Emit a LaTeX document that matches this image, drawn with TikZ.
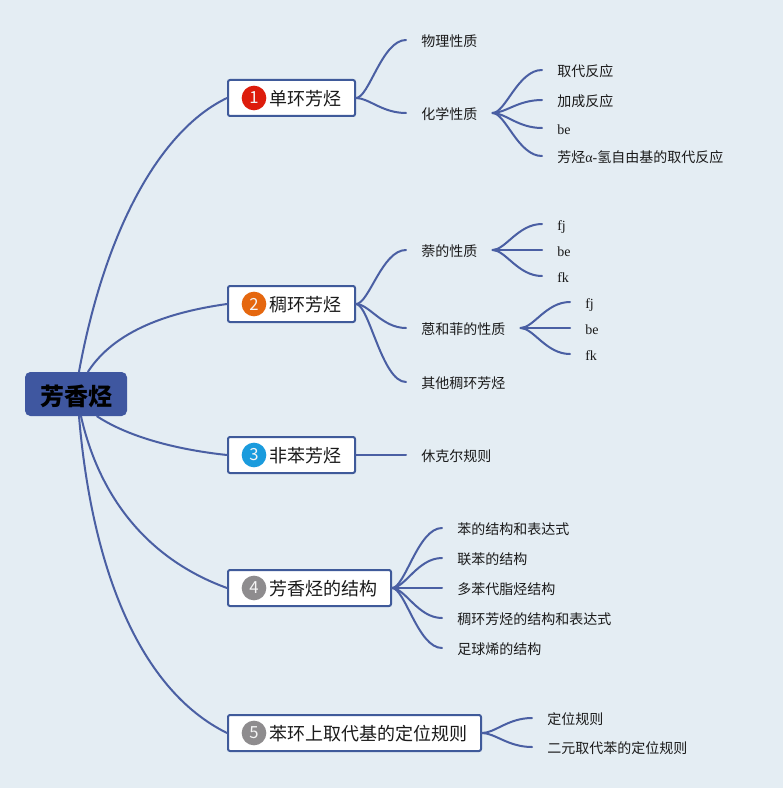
\documentclass[tikz,border=0pt]{standalone}
\usepackage{fontspec}
\setmainfont{Liberation Serif}
\newfontfamily\cjk{Noto Sans CJK SC}
\definecolor{bgc}{HTML}{E4EDF3}
\definecolor{linec}{HTML}{4A5FA3}
\definecolor{rootc}{HTML}{3F57A0}
\definecolor{boxc}{HTML}{3F5A9A}
\definecolor{txt}{HTML}{1A1A1A}
\definecolor{bred}{HTML}{DD1C0C}
\definecolor{borange}{HTML}{E5670F}
\definecolor{bblue}{HTML}{1A9BDD}
\definecolor{bgrey}{HTML}{8E8C8E}
\tikzset{
  link/.style={draw=linec,line width=1.5pt,line cap=round},
  rootbox/.style={fill=rootc,draw=none,rounded corners=4pt,minimum width=76.5pt,minimum height=33pt,inner sep=0pt,font=\cjk\fontsize{18}{20}\selectfont\bfseries,text=black,text height=17.5pt,text depth=.2pt},
  mainbox/.style={fill=white,draw=boxc,line width=1.5pt,rounded corners=1.5pt,anchor=west,minimum height=27pt,inner ysep=0pt,inner xsep=10.5pt,font=\cjk\fontsize{13.5}{16}\selectfont,text=txt,text height=12pt,text depth=.5pt},
  badge/.style={circle,minimum size=18.5pt,inner sep=0pt,text=white!92!gray,font=\cjk\fontsize{12.5}{14}\selectfont},
  leaf/.style={anchor=west,inner xsep=11.25pt,inner ysep=0pt,font=\cjk\fontsize{10.5}{13}\selectfont,text=txt,text height=10.5pt,text depth=.6pt},
  latin/.style={font=\fontsize{10.5}{13}\selectfont}
}
\newcommand{\branch}[2]{\draw[link] (#1.east) .. controls +(13,0) and +(-24,0) .. (#2.west);}
\begin{document}
\begin{tikzpicture}[x=.75pt,y=-.75pt]
\fill[bgc] (0,0) rectangle (783,788);
\useasboundingbox (0,0) rectangle (783,788);
% root
\node[rootbox] (root) at (76,394) {芳香烃};
% main
\node[mainbox] (b1) at (227,98) {\hspace{20.25pt}单环芳烃};
\node[mainbox] (b2) at (227,304) {\hspace{20.25pt}稠环芳烃};
\node[mainbox] (b3) at (227,455) {\hspace{20.25pt}非苯芳烃};
\node[mainbox] (b4) at (227,588) {\hspace{20.25pt}芳香烃的结构};
\node[mainbox] (b5) at (227,733) {\hspace{20.25pt}苯环上取代基的定位规则};
\node[badge,fill=bred] (n1) at (254,98) {1};
\node[badge,fill=borange] (n2) at (254,304) {2};
\node[badge,fill=bblue] (n3) at (254,455) {3};
\node[badge,fill=bgrey] (n4) at (254,588) {4};
\node[badge,fill=bgrey] (n5) at (254,733) {5};
% leaves
\node[leaf] (a1) at (406,40) {物理性质};
\node[leaf] (a2) at (406,113) {化学性质};
\node[leaf] (a21) at (542,70) {取代反应};
\node[leaf] (a22) at (542,100) {加成反应};
\node[leaf,latin] (a23) at (542,128) {be};
\node[leaf] (a24) at (542,156) {芳烃{\rmfamily α-}氢自由基的取代反应};
\node[leaf] (c1) at (406,250) {萘的性质};
\node[leaf,latin] (c11) at (542,224) {fj};
\node[leaf,latin] (c12) at (542,250) {be};
\node[leaf,latin] (c13) at (542,276) {fk};
\node[leaf] (c2) at (406,328) {蒽和菲的性质};
\node[leaf,latin] (c21) at (570,302) {fj};
\node[leaf,latin] (c22) at (570,328) {be};
\node[leaf,latin] (c23) at (570,354) {fk};
\node[leaf] (c3) at (406,382) {其他稠环芳烃};
\node[leaf] (d1) at (406,455) {休克尔规则};
\node[leaf] (e1) at (442,528) {苯的结构和表达式};
\node[leaf] (e2) at (442,558) {联苯的结构};
\node[leaf] (e3) at (442,588) {多苯代脂烃结构};
\node[leaf] (e4) at (442,618) {稠环芳烃的结构和表达式};
\node[leaf] (e5) at (442,648) {足球烯的结构};
\node[leaf] (f1) at (532,718) {定位规则};
\node[leaf] (f2) at (532,747) {二元取代苯的定位规则};
% root connectors
\draw[link] ([xshift=2.25pt]root.north) .. controls (105,230) and (160,130) .. (b1.west);
\draw[link] ([xshift=9pt]root.north) .. controls (115,330) and (170,312) .. (b2.west);
\draw[link] ([xshift=15.75pt]root.south) .. controls (130,438) and (180,450) .. (b3.west);
\draw[link] ([xshift=3.75pt]root.south) .. controls (100,500) and (150,560) .. (b4.west);
\draw[link] ([xshift=2.25pt]root.south) .. controls (92,570) and (140,690) .. (b5.west);
% branches
\branch{b1}{a1}\branch{b1}{a2}
\branch{a2}{a21}\branch{a2}{a22}\branch{a2}{a23}\branch{a2}{a24}
\branch{b2}{c1}\branch{b2}{c2}\branch{b2}{c3}
\branch{c1}{c11}\branch{c1}{c12}\branch{c1}{c13}
\branch{c2}{c21}\branch{c2}{c22}\branch{c2}{c23}
\branch{b3}{d1}
\branch{b4}{e1}\branch{b4}{e2}\branch{b4}{e3}\branch{b4}{e4}\branch{b4}{e5}
\branch{b5}{f1}\branch{b5}{f2}
\end{tikzpicture}
\end{document}
